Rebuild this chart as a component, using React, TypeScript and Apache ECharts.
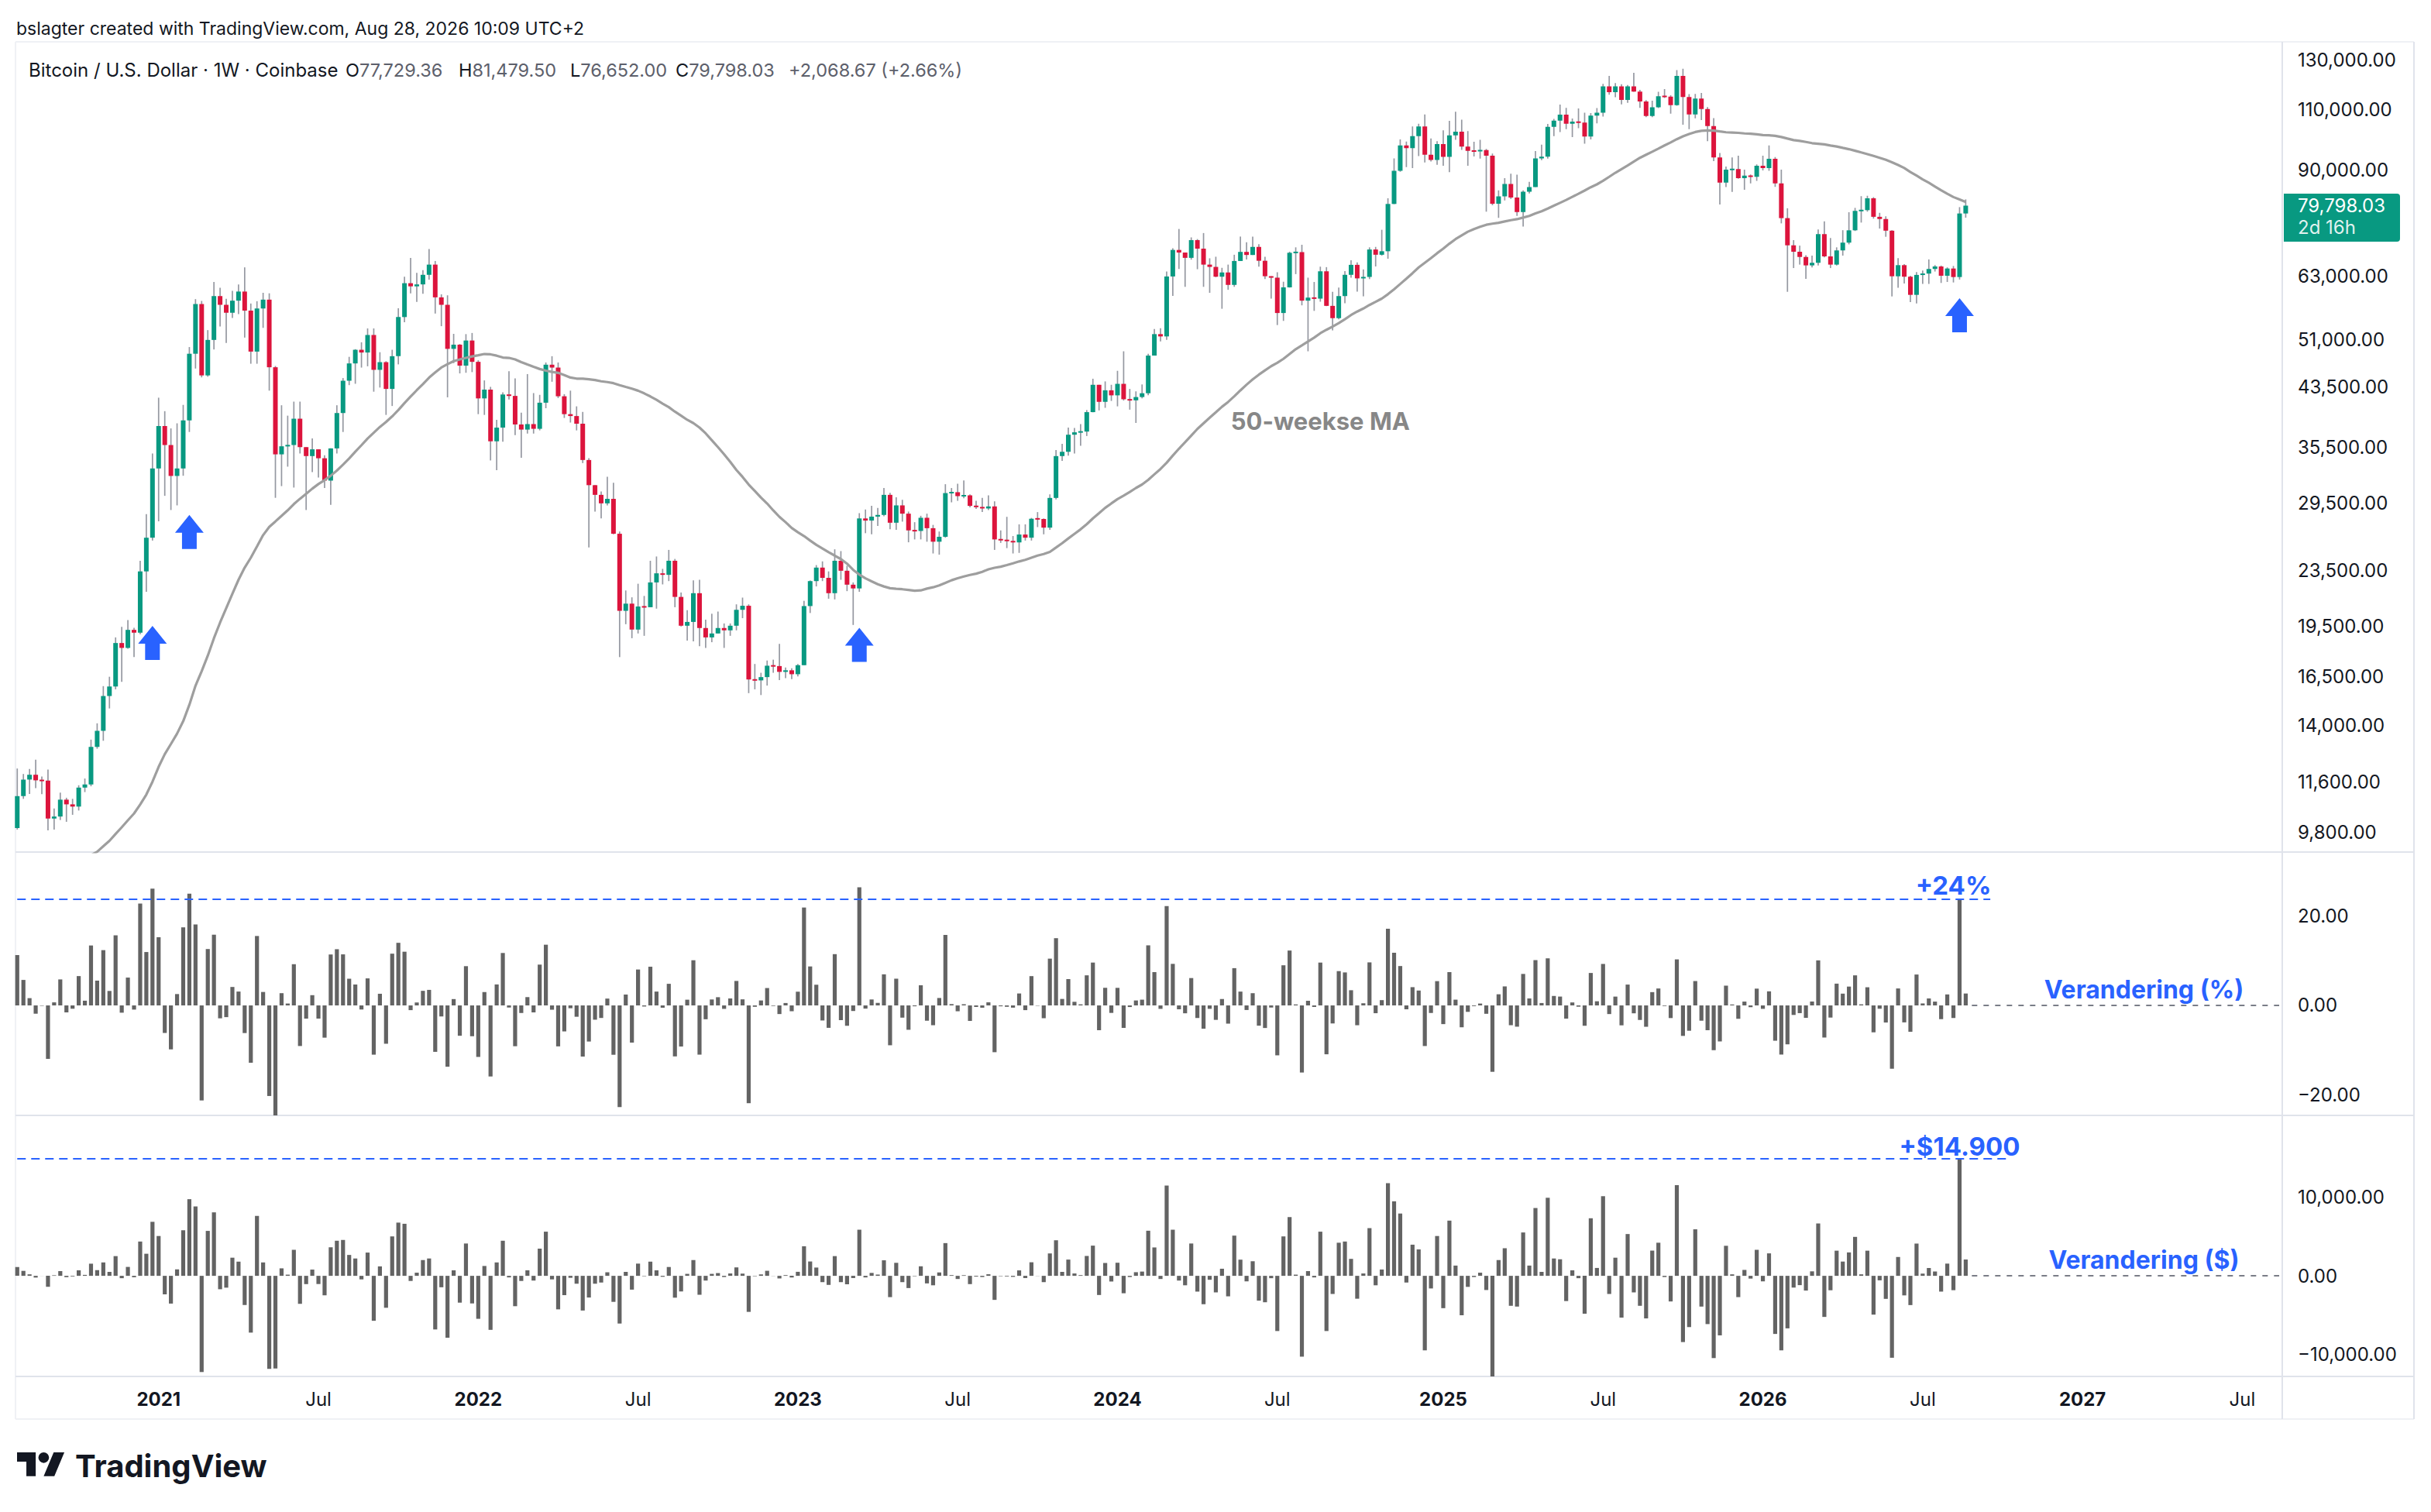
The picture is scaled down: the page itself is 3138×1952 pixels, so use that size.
import React, { useEffect, useRef } from "react";
import * as echarts from "echarts";

const W = 3138;
const H = 1952;

// ---------- DATA ----------
// 49 weekly closes before the first visible week (needed for the 50-week MA)
const priorCloses = [
  10140, 9600, 10400, 10360, 10000, 8050, 7980, 8280, 8220, 9550,
  9200, 8800, 8500, 6900, 7400, 7510, 7100, 7520, 7390, 7350,
  8180, 8700, 8600, 9370, 10150, 9900, 9960, 8530, 8030, 5360,
  5820, 5880, 6770, 6900, 7120, 7540, 8900, 8720, 9670, 8720,
  9450, 9670, 9390, 9300, 9010, 9070, 9240, 9170, 9930,
];

// weekly candles, first week starts Mon 27 Jul 2020
const closes = [
  11050, 11680, 11870, 11650, 11640, 10250, 10320, 10920, 10750, 10670,
  11370, 11490, 13030, 13750, 15450, 15950, 18450, 18150, 19280, 19100,
  23450, 26250, 33100, 38150, 35800, 32280, 33100, 38880, 48600, 57400,
  45200, 50900, 58950, 57250, 55750, 58050, 59850, 56150, 48950, 56550,
  58250, 46450, 34700, 35650, 35800, 39100, 35550, 34500, 35290, 34250,
  31780, 35400, 39850, 44400, 47050, 49250, 48800, 51750, 46050, 47250,
  43200, 48200, 54950, 61550, 60900, 61300, 63300, 65500, 58700, 57250,
  49400, 50100, 46700, 50800, 47300, 41850, 43100, 36250, 37950, 42400,
  42200, 38350, 37700, 38400, 37800, 41250, 46850, 46400, 42150, 39700,
  39450, 38450, 34050, 31300, 30300, 29450, 29900, 26600, 20550, 21050,
  19300, 20850, 20800, 22600, 23300, 23180, 24300, 21530, 19550, 19800,
  21800, 19400, 18800, 19050, 19400, 19250, 19550, 20620, 20900, 16330,
  16280, 16460, 17100, 17080, 16750, 16840, 16620, 17130, 20880, 22700,
  23750, 22950, 21800, 24300, 23500, 22430, 22150, 28000, 27800, 28170,
  28330, 30300, 27600, 29250, 28450, 26900, 26850, 28060, 27100, 25900,
  26330, 30480, 30570, 30170, 30250, 29200, 29100, 28950, 29150, 26100,
  26050, 25970, 25840, 26530, 26250, 27970, 27950, 27150, 29990, 34500,
  35000, 37060, 37360, 37450, 39970, 43800, 41370, 43000, 42280, 43940,
  41730, 41580, 42040, 42580, 48300, 51900, 51500, 62950, 68800, 68200,
  67000, 71100, 69100, 65500, 65000, 62900, 63800, 61200, 66300, 68350,
  67650, 69500, 66350, 63000, 62700, 55700, 60700, 68150, 68300, 58050,
  58650, 58450, 64050, 57050, 54750, 58950, 63300, 65450, 62550, 62850,
  68900, 67700, 68500, 80250, 89700, 97600, 96750, 100700, 104050, 94600,
  93000, 98050, 93950, 100950, 102250, 97250, 95850, 95700, 96100, 94300,
  80300, 82300, 85800, 82000, 78100, 83600, 84900, 93500, 94000, 103900,
  106100, 108200, 105000, 105700, 105400, 100600, 107900, 108900, 119000, 116700,
  119000, 113700, 119000, 116900, 113100, 107700, 110900, 115100, 114950, 111700,
  123200, 114800, 108300, 114200, 110300, 104180, 93750, 86200, 90010, 90200,
  87500, 88250, 87900, 91200, 90500, 93350, 85980, 76530, 69870, 68380,
  67200, 65330, 65900, 72540, 67330, 65500, 68690, 70500, 73470, 78410,
  78600, 81790, 76870, 76300, 73380, 62990, 65380, 62900, 59190, 63280,
  63560, 64550, 65100, 63100, 64650, 62830, 77729.36, 79798.03,
];

const highs = [
  12120, 11900, 12100, 12480, 11800, 12080, 10600, 11180, 10990, 10950,
  11460, 11720, 13350, 14100, 15970, 16480, 18800, 19480, 19920, 19420,
  24300, 28400, 34800, 41950, 40100, 37850, 38500, 40950, 49700, 58350,
  58000, 52600, 61800, 60600, 58400, 60000, 61300, 64900, 57500, 57950,
  59600, 59500, 46650, 40900, 39500, 41400, 41400, 35500, 36600, 35100,
  34600, 35400, 40900, 44800, 48100, 49350, 50500, 52900, 52900, 48850,
  47400, 49250, 56600, 62900, 67000, 63700, 64300, 69000, 66300, 59300,
  59100, 51950, 50200, 51900, 52100, 47550, 44450, 43500, 38950, 42700,
  45850, 44750, 39900, 45400, 42600, 42350, 47200, 48200, 47200, 42450,
  42950, 40750, 40000, 34250, 31300, 30650, 32200, 31550, 26800, 22000,
  21500, 22500, 21600, 24300, 24650, 23650, 25200, 24450, 21850, 20600,
  22750, 22800, 19950, 20350, 20500, 19700, 19700, 21000, 21480, 21000,
  17200, 16700, 17400, 17450, 18400, 17000, 16950, 17200, 21250, 22750,
  23950, 24250, 23450, 25250, 25100, 23900, 22600, 28500, 28850, 29200,
  29000, 31000, 30500, 30050, 29800, 28650, 27650, 28250, 28450, 27400,
  26800, 31400, 31000, 31450, 31800, 30350, 29700, 30000, 30250, 29650,
  26900, 28150, 26400, 27450, 27450, 28050, 28600, 28000, 30350, 35200,
  35950, 37950, 37900, 38400, 40250, 44700, 43450, 44300, 43800, 45900,
  49000, 43200, 42850, 43850, 48600, 52800, 52950, 64000, 69200, 73800,
  68100, 71750, 71350, 72800, 66900, 67250, 64800, 65500, 67700, 71950,
  70600, 71950, 70150, 67250, 63000, 63850, 61850, 68400, 69400, 70000,
  62700, 61800, 65050, 64950, 59800, 60650, 64100, 66450, 66000, 64450,
  69400, 69500, 73600, 81800, 93450, 99600, 98900, 104000, 105000, 108300,
  99900, 99000, 102700, 106000, 109300, 106400, 102400, 98800, 99500, 96500,
  95000, 84000, 87500, 88800, 88500, 84000, 86400, 95800, 97900, 104900,
  106700, 111900, 110700, 106800, 110500, 108900, 108800, 110600, 119950, 123200,
  120250, 119800, 119500, 124500, 117600, 113600, 113400, 116800, 117900, 115500,
  125600, 126200, 115900, 116000, 116400, 111000, 107000, 95200, 90960, 93750,
  94300, 90000, 88600, 91600, 94300, 97600, 93900, 90010, 79100, 71100,
  69800, 67600, 67500, 73700, 75700, 71600, 69400, 73500, 78050, 79200,
  82370, 82500, 82100, 77900, 77000, 73500, 66940, 65600, 63100, 63900,
  64200, 66650, 65400, 65300, 64900, 65200, 79400, 81479.5,
];

const lows = [
  9880, 10950, 11130, 11350, 11120, 9850, 9880, 10200, 10140, 10380,
  10530, 11200, 11420, 12950, 13300, 14820, 15800, 16200, 18100, 17600,
  19000, 21900, 26000, 27730, 30200, 28800, 29250, 32300, 37400, 46250,
  44900, 45000, 49300, 53250, 50400, 54800, 55500, 51300, 47000, 47000,
  53000, 42950, 30000, 31200, 33300, 31050, 34800, 28800, 32700, 32100,
  31000, 29300, 34800, 37400, 43750, 43950, 46400, 46600, 42800, 43400,
  39600, 40800, 46900, 54000, 59500, 57800, 59400, 62300, 55600, 53300,
  42000, 47100, 45500, 45600, 45700, 39700, 39600, 34000, 32900, 36200,
  41700, 37000, 34300, 37200, 37200, 37600, 40500, 44250, 41900, 39200,
  38600, 37600, 33700, 25400, 28650, 28000, 29250, 26550, 17600, 19650,
  18750, 19050, 18900, 20800, 20700, 22450, 22700, 20800, 19500, 18600,
  18550, 18250, 18150, 18500, 19050, 18150, 18900, 19250, 20050, 15600,
  15800, 15500, 16000, 16700, 16300, 16400, 16350, 16500, 17150, 20400,
  22300, 22700, 21400, 21350, 22800, 21950, 19600, 21900, 26650, 26550,
  27300, 28200, 27000, 26950, 27700, 25850, 26100, 26100, 25900, 24900,
  24800, 26250, 29550, 29700, 29950, 29050, 28900, 28600, 28800, 25200,
  25800, 25350, 24900, 24950, 26000, 26000, 27200, 26550, 26950, 29850,
  33950, 34550, 34800, 35700, 36900, 39950, 40200, 40550, 41500, 40750,
  41550, 40300, 38550, 41850, 42300, 48350, 50650, 50900, 59000, 64550,
  60800, 66600, 64500, 60800, 59600, 62800, 56500, 60200, 60800, 66300,
  66650, 68450, 65050, 62400, 58450, 53500, 54250, 60650, 63450, 57150,
  49000, 56100, 57850, 57000, 52550, 54550, 57550, 62700, 59850, 58900,
  62400, 65100, 67500, 66800, 80200, 89400, 90800, 90500, 94200, 92200,
  92500, 91500, 91200, 89250, 99500, 96200, 91200, 94100, 93400, 78200,
  79900, 76600, 81200, 81600, 77100, 74400, 83100, 85100, 92900, 93400,
  100700, 102100, 103100, 100400, 103400, 98200, 99600, 105100, 107500, 115700,
  114700, 112000, 112600, 116800, 110700, 107300, 107300, 110600, 114400, 108600,
  111500, 104600, 103100, 106900, 106300, 99000, 92600, 80100, 84900, 83560,
  87300, 84150, 85980, 86700, 89800, 89700, 85000, 75200, 59800, 64750,
  65500, 62450, 64900, 65300, 67100, 64750, 65300, 67500, 70100, 73300,
  75400, 78200, 76400, 73900, 71900, 58880, 60600, 61500, 57770, 57500,
  61400, 61400, 64000, 61600, 61800, 61700, 62300, 76652,
];

// blue arrows: [week index, price at arrow tip]
const arrowMarks = [
  [22, 19540],
  [28, 28330],
  [137, 19410],
  [316, 58530],
];

const priceTicks = [130000, 110000, 90000, 63000, 51000, 43500, 35500, 29500, 23500, 19500, 16500, 14000, 11600, 9800];
const pctTicks = [20, 0, -20];
const usdTicks = [10000, 0, -10000];

const lastPrice = 79798.03;
const countdown = "2d 16h";
const headerLine = "bslagter created with TradingView.com, Aug 28, 2026 10:09 UTC+2";
const symbolTitle = "Bitcoin / U.S. Dollar \u00b7 1W \u00b7 Coinbase";
const legendItems = [
  ["O", "77,729.36"],
  ["H", "81,479.50"],
  ["L", "76,652.00"],
  ["C", "79,798.03"],
  ["", "+2,068.67 (+2.66%)"],
];

const START_UTC = Date.UTC(2020, 6, 27);
const TOTAL_WEEKS = 369; // visible weeks incl. empty future space

// ---------- STYLE / LAYOUT ----------
const UP = "#089981";
const DOWN = "#DC143C";
const WICK = "#9598A1";
const BAR = "#636363";
const MA_COLOR = "#9E9E9E";
const BLUE = "#2962FF";
const TXT = "#131722";
const FRAME = "#E0E3EB";
const FRAME_LIGHT = "#EFF1F5";
const FONT = "Inter";

const PLOT_LEFT = 18.3;
const AXIS_X = 2946;
const RIGHT_X = 3116;
const LABEL_X = 2966;
const PANES = [
  { top: 53.3, bottom: 1100 },
  { top: 1100, bottom: 1440 },
  { top: 1440, bottom: 1777 },
];

const annotations = [
  { grid: 0, at: [212, 38780], text: "50-weekse MA", color: "#878787", size: 31 },
  { grid: 1, at: [315, 26.8], text: "+24%", color: BLUE, size: 33 },
  { grid: 1, at: [346, 3.55], text: "Verandering (%)", color: BLUE, size: 32 },
  { grid: 2, at: [316, 16444], text: "+$14.900", color: BLUE, size: 33 },
  { grid: 2, at: [346, 1975], text: "Verandering ($)", color: BLUE, size: 32 },
];

const TV_LOGO_D = "M14 22H7V11H0V4h14v18zM28 22h-8l7.5-18h8L28 22zM16 8a4 4 0 1 0 8 0a4 4 0 1 0 -8 0z";
echarts.graphic.registerShape("tvlogo", echarts.graphic.extendPath(TV_LOGO_D, {}));

// ---------- DERIVED ----------
const weeks: string[] = [];
for (let i = 0; i < TOTAL_WEEKS; i++) {
  weeks.push(new Date(START_UTC + i * 7 * 86400000).toISOString().slice(0, 10));
}
const prevClose = (i: number) => (i === 0 ? priorCloses[priorCloses.length - 1] : closes[i - 1]);
const opens = closes.map((_, i) => prevClose(i));
const candleData = closes.map((c, i) => [i, opens[i], c, lows[i], highs[i]]);
const allCloses = priorCloses.concat(closes);
const maValues = closes.map((_, i) => {
  let s = 0;
  for (let k = i; k < i + 50; k++) s += allCloses[k];
  return +(s / 50).toFixed(2);
});
const usdChange = closes.map((c, i) => +(c - prevClose(i)).toFixed(2));
const pctChange = closes.map((c, i) => +(((c - prevClose(i)) / prevClose(i)) * 100).toFixed(3));
const lastIdx = closes.length - 2; // the +24% week

const fmt = (v: number) => {
  const s = Math.abs(v).toLocaleString("en-US", { minimumFractionDigits: 2, maximumFractionDigits: 2 });
  return v < 0 ? "\u2212" + s : s;
};

const isLabelWeek = (s: string) => {
  const d = new Date(s + "T00:00:00Z");
  return d.getUTCDate() <= 7 && (d.getUTCMonth() === 0 || d.getUTCMonth() === 6);
};

function buildOption(): any {
  const grid = PANES.map((p) => ({
    left: PLOT_LEFT,
    right: W - AXIS_X,
    top: p.top,
    height: p.bottom - p.top,
    containLabel: false,
  }));
  const xAxis = PANES.map((_, gi) => ({
    type: "category",
    gridIndex: gi,
    data: weeks,
    boundaryGap: true,
    show: gi === 2,
    axisLine: { show: false },
    axisTick: { show: false },
    splitLine: { show: false },
    axisLabel: {
      show: gi === 2,
      margin: 17,
      interval: (_idx: number, val: string) => isLabelWeek(val),
      formatter: (val: string) => {
        const d = new Date(val + "T00:00:00Z");
        return d.getUTCMonth() === 0 ? "{y|" + d.getUTCFullYear() + "}" : "{m|Jul}";
      },
      rich: {
        y: { fontSize: 24, fontWeight: "bold", color: TXT, fontFamily: FONT },
        m: { fontSize: 24, fontWeight: "normal", color: TXT, fontFamily: FONT },
      },
    },
  }));
  const yAxis = [
    { type: "log", logBase: 10, gridIndex: 0, min: 9163, max: 138350, show: false, splitLine: { show: false } },
    { type: "value", gridIndex: 1, min: -24.6, max: 34.3, show: false, splitLine: { show: false } },
    { type: "value", gridIndex: 2, min: -12760, max: 20344, show: false, splitLine: { show: false } },
  ];
  return {
    animation: false,
    backgroundColor: "#ffffff",
    textStyle: { fontFamily: FONT },
    grid,
    xAxis,
    yAxis,
    series: [
      {
        type: "custom",
        name: "BTCUSD",
        xAxisIndex: 0,
        yAxisIndex: 0,
        data: candleData,
        encode: { x: 0, y: [1, 2, 3, 4] },
        clip: true,
        z: 2,
        renderItem: (_params: any, api: any) => {
          const i = api.value(0);
          const o = api.value(1);
          const c = api.value(2);
          const l = api.value(3);
          const h = api.value(4);
          const pHi = api.coord([i, Math.max(o, c, h)]);
          const pLo = api.coord([i, Math.min(o, c, l)]);
          const pO = api.coord([i, o]);
          const pC = api.coord([i, c]);
          const x = pO[0];
          let y1 = Math.min(pO[1], pC[1]);
          let bh = Math.abs(pO[1] - pC[1]);
          if (bh < 2) {
            y1 -= (2 - bh) / 2;
            bh = 2;
          }
          return {
            type: "group",
            children: [
              { type: "rect", shape: { x: x - 0.85, y: pHi[1], width: 1.7, height: pLo[1] - pHi[1] }, style: { fill: WICK } },
              { type: "rect", shape: { x: x - 3, y: y1, width: 6, height: bh }, style: { fill: c >= o ? UP : DOWN } },
            ],
          };
        },
      },
      {
        type: "line",
        name: "MA50",
        xAxisIndex: 0,
        yAxisIndex: 0,
        data: maValues,
        symbol: "none",
        showSymbol: false,
        silent: true,
        z: 3,
        lineStyle: { color: MA_COLOR, width: 3.2 },
      },
      {
        type: "scatter",
        name: "arrows",
        xAxisIndex: 0,
        yAxisIndex: 0,
        data: arrowMarks,
        symbol: "path://M18.5,0L37,23L28,23L28,44L9,44L9,23L0,23Z",
        symbolSize: [37, 44],
        symbolOffset: [0, "50%"],
        itemStyle: { color: BLUE, opacity: 1 },
        silent: true,
        z: 4,
      },
      {
        type: "bar",
        name: "pct",
        xAxisIndex: 1,
        yAxisIndex: 1,
        data: pctChange,
        barWidth: 5.2,
        itemStyle: { color: BAR },
        silent: true,
        markLine: {
          silent: true,
          symbol: ["none", "none"],
          label: { show: false },
          data: [
            [
              { coord: [0, pctChange[lastIdx]], lineStyle: { color: BLUE, width: 2, type: [11, 7] } },
              { coord: [321, pctChange[lastIdx]] },
            ],
            [
              { coord: [318, 0], lineStyle: { color: "#7A7D87", width: 2, type: [7, 8] } },
              { coord: [368, 0] },
            ],
          ],
        },
      },
      {
        type: "bar",
        name: "usd",
        xAxisIndex: 2,
        yAxisIndex: 2,
        data: usdChange,
        barWidth: 5.2,
        itemStyle: { color: BAR },
        silent: true,
        markLine: {
          silent: true,
          symbol: ["none", "none"],
          label: { show: false },
          data: [
            [
              { coord: [0, usdChange[lastIdx]], lineStyle: { color: BLUE, width: 2, type: [11, 7] } },
              { coord: [324, usdChange[lastIdx]] },
            ],
            [
              { coord: [318, 0], lineStyle: { color: "#7A7D87", width: 2, type: [7, 8] } },
              { coord: [368, 0] },
            ],
          ],
        },
      },
    ],
  };
}

function buildGraphics(chart: any): any[] {
  const els: any[] = [];
  const ln = (x1: number, y1: number, x2: number, y2: number, color: string) => ({
    type: "line",
    silent: true,
    z: 1,
    shape: { x1, y1, x2, y2 },
    style: { stroke: color, lineWidth: 2 },
  });
  // frame & separators
  els.push(ln(20, 54, RIGHT_X, 54, FRAME_LIGHT));
  els.push(ln(20, 54, 20, 1832, FRAME_LIGHT));
  els.push(ln(20, 1832, RIGHT_X, 1832, FRAME_LIGHT));
  els.push(ln(RIGHT_X, 54, RIGHT_X, 1832, FRAME));
  els.push(ln(AXIS_X, 54, AXIS_X, 1832, FRAME));
  els.push(ln(20, 1100, RIGHT_X, 1100, FRAME));
  els.push(ln(20, 1440, RIGHT_X, 1440, FRAME));
  els.push(ln(20, 1777, RIGHT_X, 1777, FRAME));

  const txt = (x: number, y: number, text: string, opts: any = {}) => ({
    type: "text",
    silent: true,
    z: 10,
    x,
    y,
    style: {
      text,
      fill: opts.fill || TXT,
      fontSize: opts.size || 24,
      fontFamily: FONT,
      fontWeight: opts.weight || "normal",
      align: opts.align || "left",
      verticalAlign: "middle",
      rich: opts.rich,
    },
  });

  // y-axis labels, placed through the axes' own scales
  const tickSets = [priceTicks, pctTicks, usdTicks];
  tickSets.forEach((ticks, ai) => {
    ticks.forEach((v) => {
      const y = chart.convertToPixel({ yAxisIndex: ai }, v);
      els.push(txt(LABEL_X, y, fmt(v)));
    });
  });

  // last price label
  const py = chart.convertToPixel({ yAxisIndex: 0 }, lastPrice);
  els.push({
    type: "rect",
    silent: true,
    z: 9,
    shape: { x: AXIS_X + 2, y: py - 15.5, width: 150, height: 62, r: [0, 4, 4, 0] },
    style: { fill: UP },
  });
  els.push(txt(LABEL_X, py, fmt(lastPrice), { fill: "#ffffff" }));
  els.push(txt(LABEL_X, py + 28.5, countdown, { fill: "rgba(255,255,255,0.88)" }));

  // annotations
  annotations.forEach((a) => {
    const p = chart.convertToPixel({ gridIndex: a.grid }, a.at);
    els.push(txt(p[0], p[1], a.text, { fill: a.color, size: a.size, weight: "bold", align: "center" }));
  });

  // header
  els.push(txt(21, 36.5, headerLine, { size: 23 }));
  els.push(txt(37, 90, symbolTitle, { size: 24 }));
  const legendX = [446, 592, 736, 872, 1018];
  legendItems.forEach((it, k) => {
    const rich = {
      k: { fill: TXT, color: TXT, fontSize: 23.5, fontFamily: FONT },
      v: { fill: "#5D606B", color: "#5D606B", fontSize: 23.5, fontFamily: FONT },
    };
    const text = (it[0] ? "{k|" + it[0] + "}" : "") + "{v|" + it[1] + "}";
    els.push(txt(legendX[k], 90, text, { size: 23.5, rich }));
  });

  // TradingView logo
  els.push({
    type: "tvlogo",
    silent: true,
    z: 10,
    x: 22,
    y: 1868,
    scaleX: 1.72,
    scaleY: 1.72,
    style: { fill: TXT },
  });
  els.push(txt(97, 1892, "TradingView", { size: 40, weight: "bold" }));
  return els;
}

export default function App() {
  const ref = useRef<HTMLDivElement>(null);
  useEffect(() => {
    const el = ref.current;
    if (!el) return;
    const chart = echarts.init(el, null, { renderer: "svg", width: W, height: H });
    chart.setOption(buildOption());
    chart.setOption({ graphic: { elements: buildGraphics(chart) } });
    return () => {
      chart.dispose();
    };
  }, []);
  return (
    <div
      ref={ref}
      style={{ position: "absolute", left: 0, top: 0, width: W, height: H, background: "#ffffff" }}
    />
  );
}
